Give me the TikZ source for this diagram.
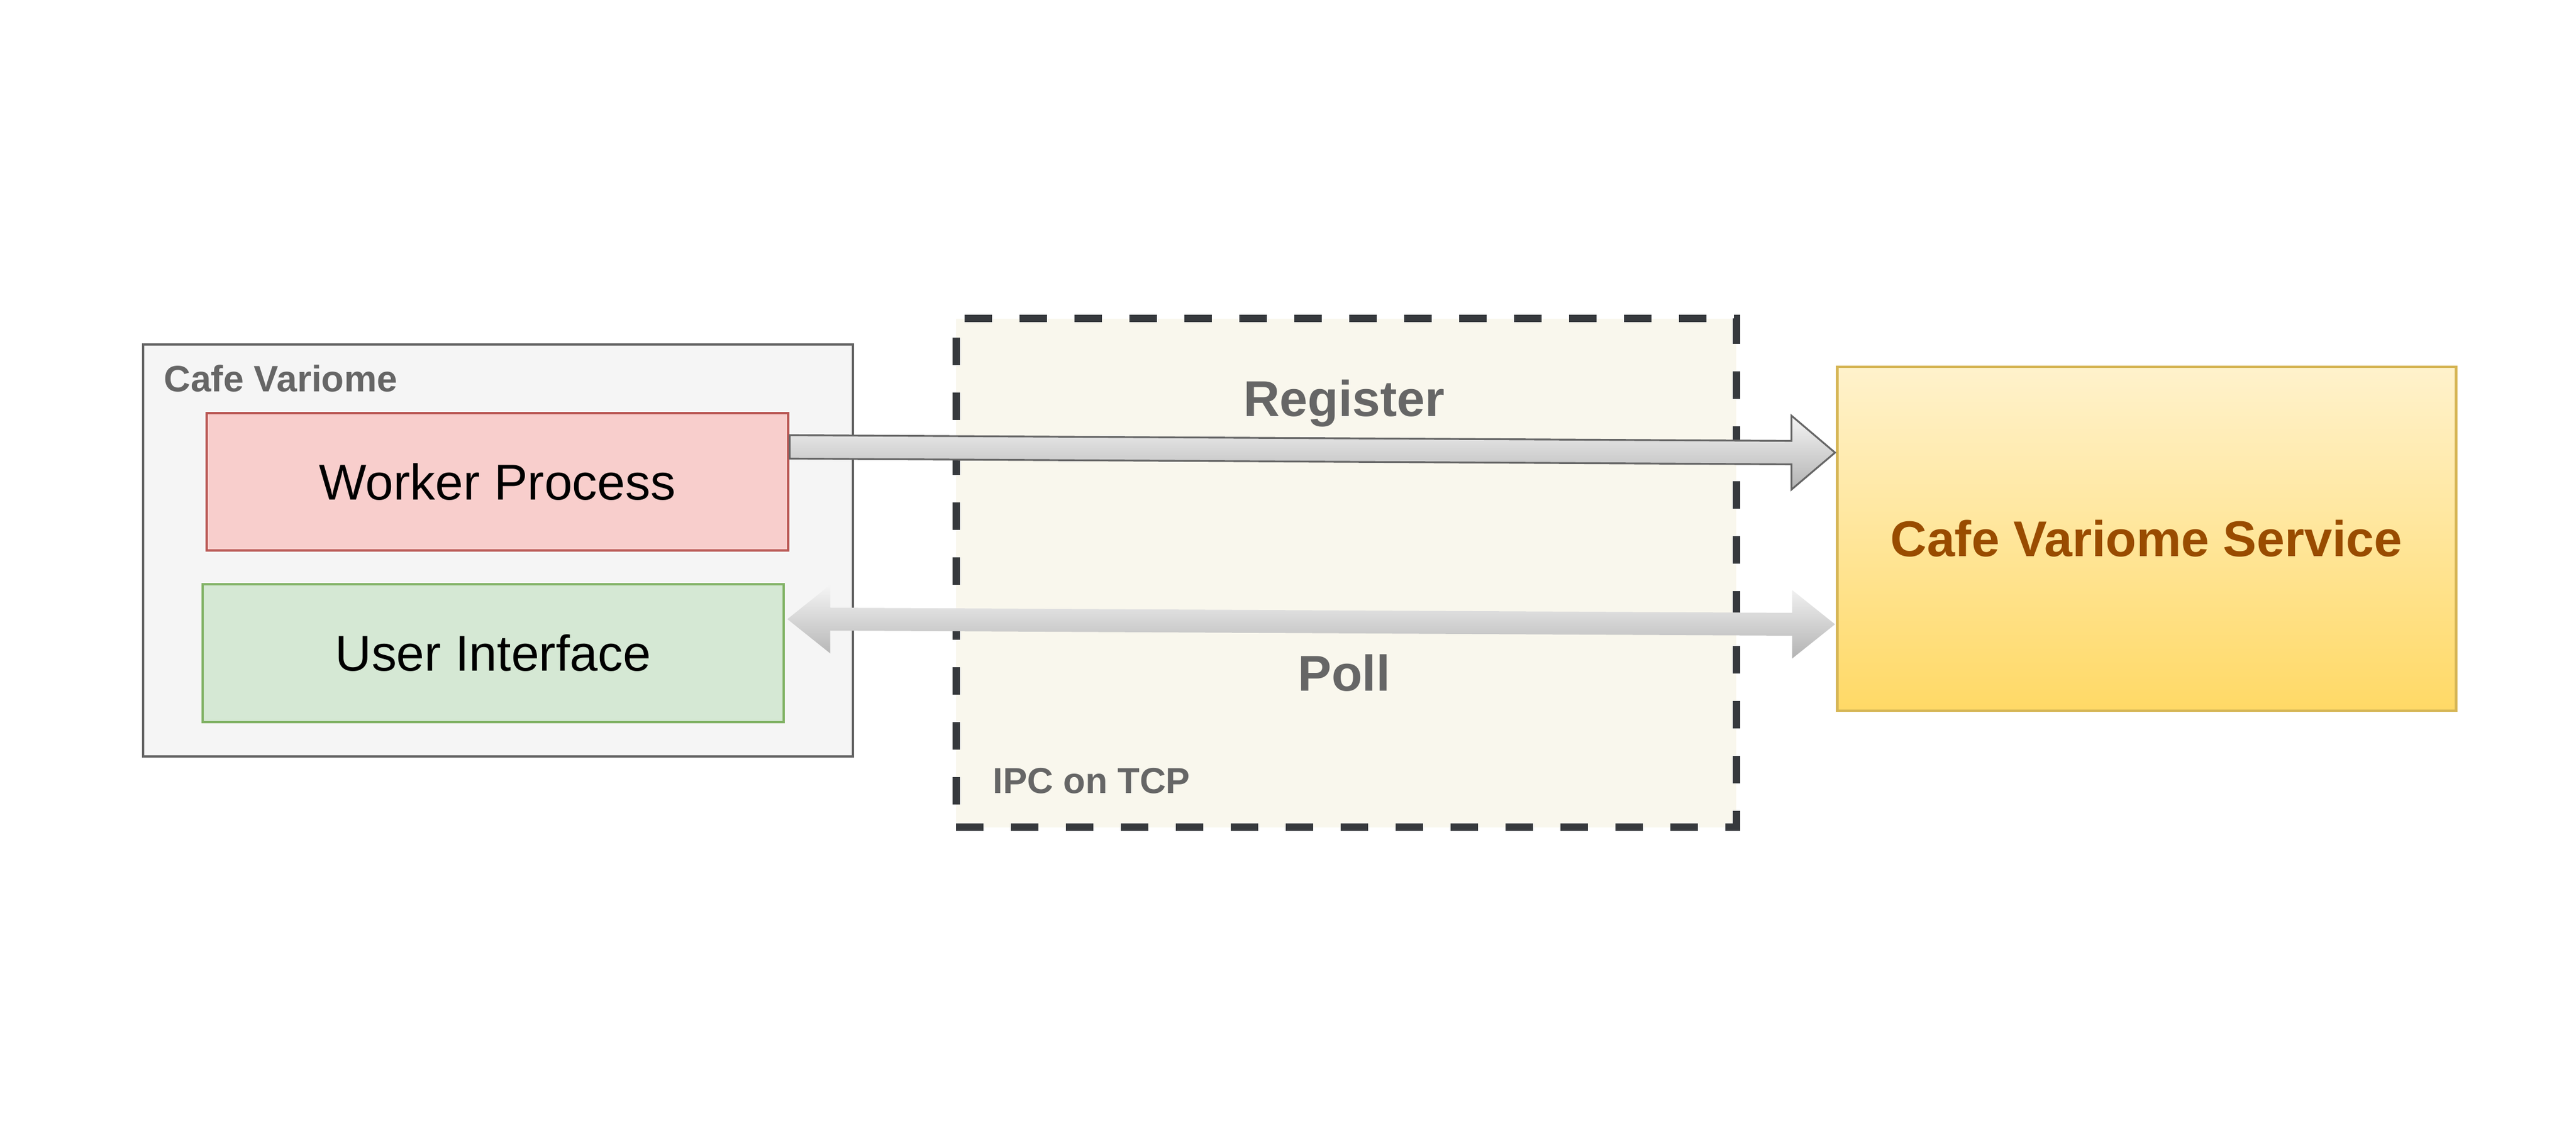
\documentclass[tikz,border=0pt]{standalone}
\usepackage{fontspec}
\setmainfont{Liberation Sans}
\usetikzlibrary{positioning,calc}
\definecolor{cvfill}{HTML}{F5F5F5}
\definecolor{cvline}{HTML}{666666}
\definecolor{wpfill}{HTML}{F8CECC}
\definecolor{wpline}{HTML}{B85450}
\definecolor{uifill}{HTML}{D5E8D4}
\definecolor{uiline}{HTML}{82B366}
\definecolor{ipcfill}{HTML}{F9F7ED}
\definecolor{ipcline}{HTML}{36393D}
\definecolor{svctop}{HTML}{FFF2CC}
\definecolor{svcbot}{HTML}{FFD966}
\definecolor{svcline}{HTML}{D6B656}
\definecolor{svctext}{HTML}{994C00}
\definecolor{labgrey}{HTML}{666666}

\begin{document}
\begin{tikzpicture}[
  box/.style={draw, line width=1.4pt, inner sep=0pt, align=center},
  bigtxt/.style={font=\fontsize{25}{29}\selectfont},
  boldtxt/.style={font=\bfseries\fontsize{#1}{#1}\selectfont, text=labgrey, inner sep=0pt},
  fatarrow/.style={top color=cvfill, bottom color=black!30}
]
\useasboundingbox (0,0) rectangle (45,20);
   % boxes
   \node[box, fill=cvfill, draw=cvline, minimum width=12.4cm, minimum height=7.2cm] (cv) at (8.70,10.38) {};
   \node[boldtxt=18.3, anchor=base west] (cv_lbl) at (2.86,13.15) {Cafe Variome};
   \node[box, bigtxt, fill=wpfill, draw=wpline, minimum width=10.16cm, minimum height=2.40cm] (wp) at (8.69,11.58) {Worker Process};
   \node[box, bigtxt, fill=uifill, draw=uiline, minimum width=10.15cm, minimum height=2.41cm] (ui) at (8.615,8.585) {User Interface};
   \node[draw=ipcline, fill=ipcfill, line width=3.7pt, dash pattern=on 0.48cm off 0.48cm,
         minimum width=13.63cm, minimum height=8.89cm, inner sep=0pt] (ipc) at (23.515,9.985) {};
   \node[boldtxt=18, anchor=base west] (ipc_lbl) at (17.34,6.13) {IPC on TCP};
   \node[box, font=\bfseries\fontsize{25}{29}\selectfont, text=svctext, top color=svctop, bottom color=svcbot,
         draw=svcline, minimum width=10.81cm, minimum height=6.01cm] (svc) at (37.495,10.585) {Cafe Variome Service};
   % register arrow
   \coordinate (reg_s) at ($(wp.east)+(0,0.61)$);
   \coordinate (reg_e) at ($(svc.west)+(-0.01,1.505)$);
   \path[fatarrow, draw=cvline, line width=0.9pt, line join=miter]
    ($(reg_s)+(0,0.205)$) -- ($(reg_e)+(-0.76,0.205)$) -- ($(reg_e)+(-0.76,0.645)$) -- (reg_e)
    -- ($(reg_e)+(-0.76,-0.645)$) -- ($(reg_e)+(-0.76,-0.205)$) -- ($(reg_s)+(0,-0.205)$) -- cycle;
   % poll arrow
   \coordinate (poll_s) at ($(ui.east)+(0.04,0.595)$);
   \coordinate (poll_e) at ($(svc.west)+(-0.01,-1.495)$);
   \path[fatarrow]
    (poll_s) -- ($(poll_s)+(0.75,0.60)$) -- ($(poll_s)+(0.75,0.20)$) -- ($(poll_e)+(-0.75,0.20)$)
    -- ($(poll_e)+(-0.75,0.60)$) -- (poll_e) -- ($(poll_e)+(-0.75,-0.60)$) -- ($(poll_e)+(-0.75,-0.20)$)
    -- ($(poll_s)+(0.75,-0.20)$) -- ($(poll_s)+(0.75,-0.60)$) -- cycle;
   % labels
   \node[boldtxt=25, anchor=base] (reg_lbl) at (23.48,12.72) {Register};
   \node[boldtxt=25, anchor=base] (poll_lbl) at (23.48,7.92) {Poll};
\end{tikzpicture}
\end{document}
